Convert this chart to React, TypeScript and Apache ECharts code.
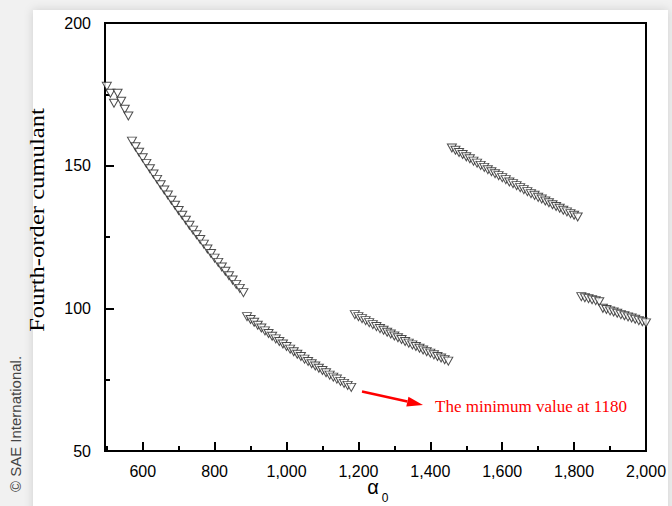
import React, { useEffect, useRef } from "react";
import * as echarts from "echarts";

// alpha_0 sampling (uniform marker spacing)
const alphaStart = 500;
const alphaStep = 10;

// Fourth-order cumulant values, read segment by segment
const segment1 = [177.8, 175.4, 171.9, 175.4, 172.6, 169.8, 167.4]; // 500-560
const segment2 = [
  158.6, 156.6, 154.7, 152.8, 150.8, 148.9, 147.1, 145.2, 143.3, 141.5, 139.7,
  137.9, 136.1, 134.3, 132.6, 130.9, 129.1, 127.4, 125.8, 124.1, 122.5, 120.8,
  119.2, 117.6, 116.1, 114.5, 113.0, 111.4, 109.9, 108.4, 107.0, 105.5,
]; // 570-880
const segment3 = [
  97.1, 96.1, 95.1, 94.1, 93.1, 92.1, 91.2, 90.2, 89.3, 88.4, 87.5, 86.6, 85.7,
  84.8, 83.9, 83.1, 82.2, 81.4, 80.6, 79.8, 79.0, 78.2, 77.4, 76.6, 75.9, 75.2,
  74.4, 73.7, 73.0, 72.3,
]; // 890-1180
const segment4 = [
  97.8, 97.1, 96.4, 95.7, 95.0, 94.3, 93.6, 92.9, 92.3, 91.6, 91.0, 90.3, 89.7,
  89.1, 88.4, 87.8, 87.2, 86.6, 86.0, 85.4, 84.8, 84.3, 83.7, 83.1, 82.6, 82.0,
  81.5,
]; // 1190-1450
const segment5 = [
  156.2, 155.4, 154.6, 153.9, 153.1, 152.4, 151.6, 150.9, 150.1, 149.4, 148.6,
  147.9, 147.2, 146.5, 145.8, 145.1, 144.3, 143.7, 143.0, 142.3, 141.6, 140.9,
  140.2, 139.6, 138.9, 138.3, 137.6, 137.0, 136.3, 135.7, 135.1, 134.4, 133.8,
  133.2, 132.6, 132.0,
]; // 1460-1810
const segment6 = [
  104.1, 103.7, 103.4, 103.0, 102.7, 102.3, 100.0, 99.6, 99.1, 98.7, 98.3, 97.8,
  97.4, 97.0, 96.6, 96.2, 95.7, 95.3, 94.9,
]; // 1820-2000

const cumulant = [
  ...segment1,
  ...segment2,
  ...segment3,
  ...segment4,
  ...segment5,
  ...segment6,
];

const xMajorTicks = [600, 800, 1000, 1200, 1400, 1600, 1800, 2000];
const xMinorTicks = [500, 700, 900, 1100, 1300, 1500, 1700, 1900];

const annotationText = "The minimum value at 1180";

export default function App() {
  const ref = useRef<HTMLDivElement>(null);

  useEffect(() => {
    const chart = echarts.init(ref.current!, null, { renderer: "svg" });
    const data = cumulant.map((v, i) => [alphaStart + i * alphaStep, v]);

    const labelFont = "'Liberation Sans', Arial, sans-serif";
    const serif = "'Liberation Serif', 'Times New Roman', serif";

    // arrow geometry (annotation)
    const ax0 = 362, ay0 = 391.5, ax1 = 423, ay1 = 405;
    const dx = ax1 - ax0, dy = ay1 - ay0;
    const len = Math.sqrt(dx * dx + dy * dy);
    const ux = dx / len, uy = dy / len;
    const headL = 16, headW = 5;
    const bx = ax1 - headL * ux, by = ay1 - headL * uy;

    chart.setOption({
      animation: false,
      backgroundColor: "#f1f1f1",
      grid: {
        left: 105,
        right: 26,
        top: 23,
        bottom: 55,
        show: true,
        borderColor: "#000",
        borderWidth: 2,
        backgroundColor: "transparent",
        containLabel: false,
      },
      xAxis: [
        {
          type: "value",
          min: 495,
          max: 2000,
          position: "bottom",
          splitLine: { show: false },
          axisLine: { show: true, lineStyle: { color: "#000", width: 2 } },
          axisTick: {
            show: true,
            inside: true,
            length: 9,
            customValues: xMajorTicks,
            lineStyle: { color: "#000", width: 2 },
          },
          axisLabel: {
            show: true,
            customValues: xMajorTicks,
            fontSize: 16,
            color: "#000",
            fontFamily: labelFont,
            margin: 12,
          },
        },
        {
          type: "value",
          min: 495,
          max: 2000,
          position: "bottom",
          gridIndex: 0,
          splitLine: { show: false },
          axisLine: { show: false },
          axisLabel: { show: false },
          axisTick: {
            show: true,
            inside: true,
            length: 5,
            customValues: xMinorTicks,
            lineStyle: { color: "#000", width: 2 },
          },
        },
      ],
      yAxis: {
        type: "value",
        min: 50,
        max: 200,
        interval: 50,
        splitLine: { show: false },
        axisLine: { show: true, lineStyle: { color: "#000", width: 2 } },
        axisTick: {
          show: true,
          inside: true,
          length: 9,
          lineStyle: { color: "#000", width: 2 },
        },
        minorTick: {
          show: true,
          splitNumber: 2,
          length: 5,
          lineStyle: { color: "#000", width: 2 },
        },
        minorSplitLine: { show: false },
        axisLabel: {
          fontSize: 16,
          color: "#000",
          fontFamily: labelFont,
          margin: 14,
        },
      },
      series: [
        {
          type: "scatter",
          xAxisIndex: 0,
          data,
          symbol: "triangle",
          symbolRotate: 180,
          symbolSize: [9, 8],
          itemStyle: { color: "#fff", borderColor: "#222", borderWidth: 1 },
          z: 3,
        },
      ],
      graphic: [
        {
          type: "rect",
          z: -10,
          shape: { x: 33, y: 10, width: 635, height: 510 },
          style: {
            fill: "#fff",
            shadowBlur: 10,
            shadowColor: "rgba(0,0,0,0.15)",
          },
        },
        {
          type: "text",
          x: 15,
          y: 424,
          rotation: Math.PI / 2,
          style: {
            text: "© SAE International.",
            fontSize: 15,
            fontFamily: labelFont,
            fill: "#444",
            align: "center",
            verticalAlign: "middle",
          },
        },
        {
          type: "text",
          x: 36,
          y: 220,
          rotation: Math.PI / 2,
          scaleX: 1.12,
          style: {
            text: "Fourth-order cumulant",
            fontSize: 22,
            fontFamily: serif,
            fill: "#000",
            align: "center",
            verticalAlign: "middle",
          },
        },
        {
          type: "text",
          x: 373,
          y: 487,
          style: {
            text: "α",
            fontSize: 20,
            fontFamily: labelFont,
            fill: "#000",
            align: "center",
            verticalAlign: "middle",
          },
        },
        {
          type: "text",
          x: 385,
          y: 498,
          style: {
            text: "0",
            fontSize: 12,
            fontFamily: labelFont,
            fill: "#000",
            align: "center",
            verticalAlign: "middle",
          },
        },
        {
          type: "line",
          shape: { x1: ax0, y1: ay0, x2: bx, y2: by },
          style: { stroke: "#ff0000", lineWidth: 2.5 },
        },
        {
          type: "polygon",
          shape: {
            points: [
              [ax1, ay1],
              [bx - headW * uy, by + headW * ux],
              [bx + headW * uy, by - headW * ux],
            ],
          },
          style: { fill: "#ff0000" },
        },
        {
          type: "text",
          x: 435,
          y: 406,
          style: {
            text: annotationText,
            fontSize: 17,
            fontFamily: serif,
            fill: "#ff0000",
            align: "left",
            verticalAlign: "middle",
          },
        },
      ],
    });

    return () => chart.dispose();
  }, []);

  return (
    <div
      ref={ref}
      style={{ position: "fixed", left: 0, top: 0, width: 672, height: 506 }}
    />
  );
}
